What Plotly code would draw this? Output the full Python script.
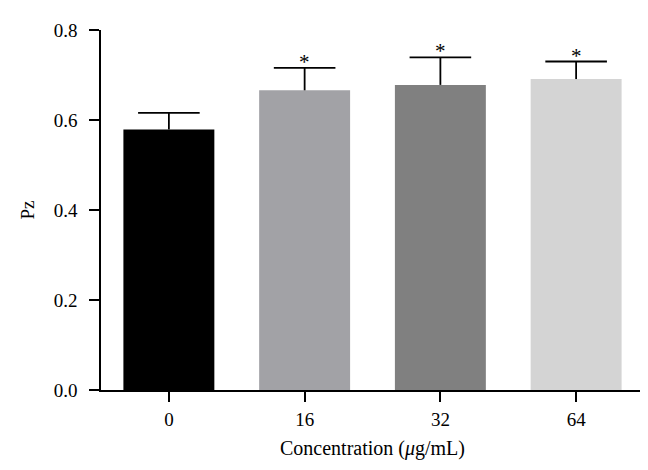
import plotly.graph_objects as go

categories = ["0", "16", "32", "64"]
values = [0.579, 0.666, 0.678, 0.691]
errors_up = [0.037, 0.050, 0.061, 0.039]
bar_colors = ["#000000", "#A2A2A6", "#808080", "#D4D4D4"]
signif = ["", "*", "*", "*"]
y_ticks = [0.0, 0.2, 0.4, 0.6, 0.8]
y_tick_labels = ["0.0", "0.2", "0.4", "0.6", "0.8"]

font_family = "Liberation Serif"
tops = [v + e for v, e in zip(values, errors_up)]

fig = go.Figure()
fig.add_trace(go.Bar(
    x=categories,
    y=values,
    marker=dict(color=bar_colors, line=dict(width=0)),
    width=0.67,
    error_y=dict(type="data", symmetric=False, array=errors_up,
                 arrayminus=[0] * len(values), color="#000000",
                 thickness=1.8, width=0),
    showlegend=False,
    hoverinfo="skip",
))
fig.add_trace(go.Scatter(
    x=categories, y=tops, mode="markers",
    marker=dict(symbol="line-ew", size=44, color="#000000",
                line=dict(color="#000000", width=1.8)),
    showlegend=False, hoverinfo="skip",
))

for i, (t, s) in enumerate(zip(tops, signif)):
    if s:
        fig.add_annotation(xref="x", yref="y", x=i, y=t, text=s,
                           showarrow=False, yanchor="bottom", yshift=-8,
                           font=dict(family=font_family, size=21, color="#000000"))

fig.update_layout(
    width=648, height=470,
    margin=dict(l=93, r=12, t=22, b=88),
    paper_bgcolor="white", plot_bgcolor="white",
    font=dict(family=font_family, size=19, color="#000000"),
    barmode="overlay",
)
fig.update_xaxes(
    type="category", range=[-0.5, 3.5],
    showline=True, linecolor="#000000", linewidth=1.6,
    ticks="outside", ticklen=10, tickwidth=1.6, tickcolor="#000000",
    showgrid=False, zeroline=False, ticklabelstandoff=1,
    title=dict(text="Concentration (<i>μ</i>g/mL)", font=dict(size=20), standoff=12),
)
fig.update_yaxes(
    range=[0, 0.8], tickvals=y_ticks, ticktext=y_tick_labels,
    showline=True, linecolor="#000000", linewidth=1.6,
    ticks="outside", ticklen=10, tickwidth=1.6, tickcolor="#000000",
    showgrid=False, zeroline=False, ticklabelstandoff=8,
    title=dict(text="Pz", font=dict(size=19), standoff=14),
)

fig.write_html("out.html")
